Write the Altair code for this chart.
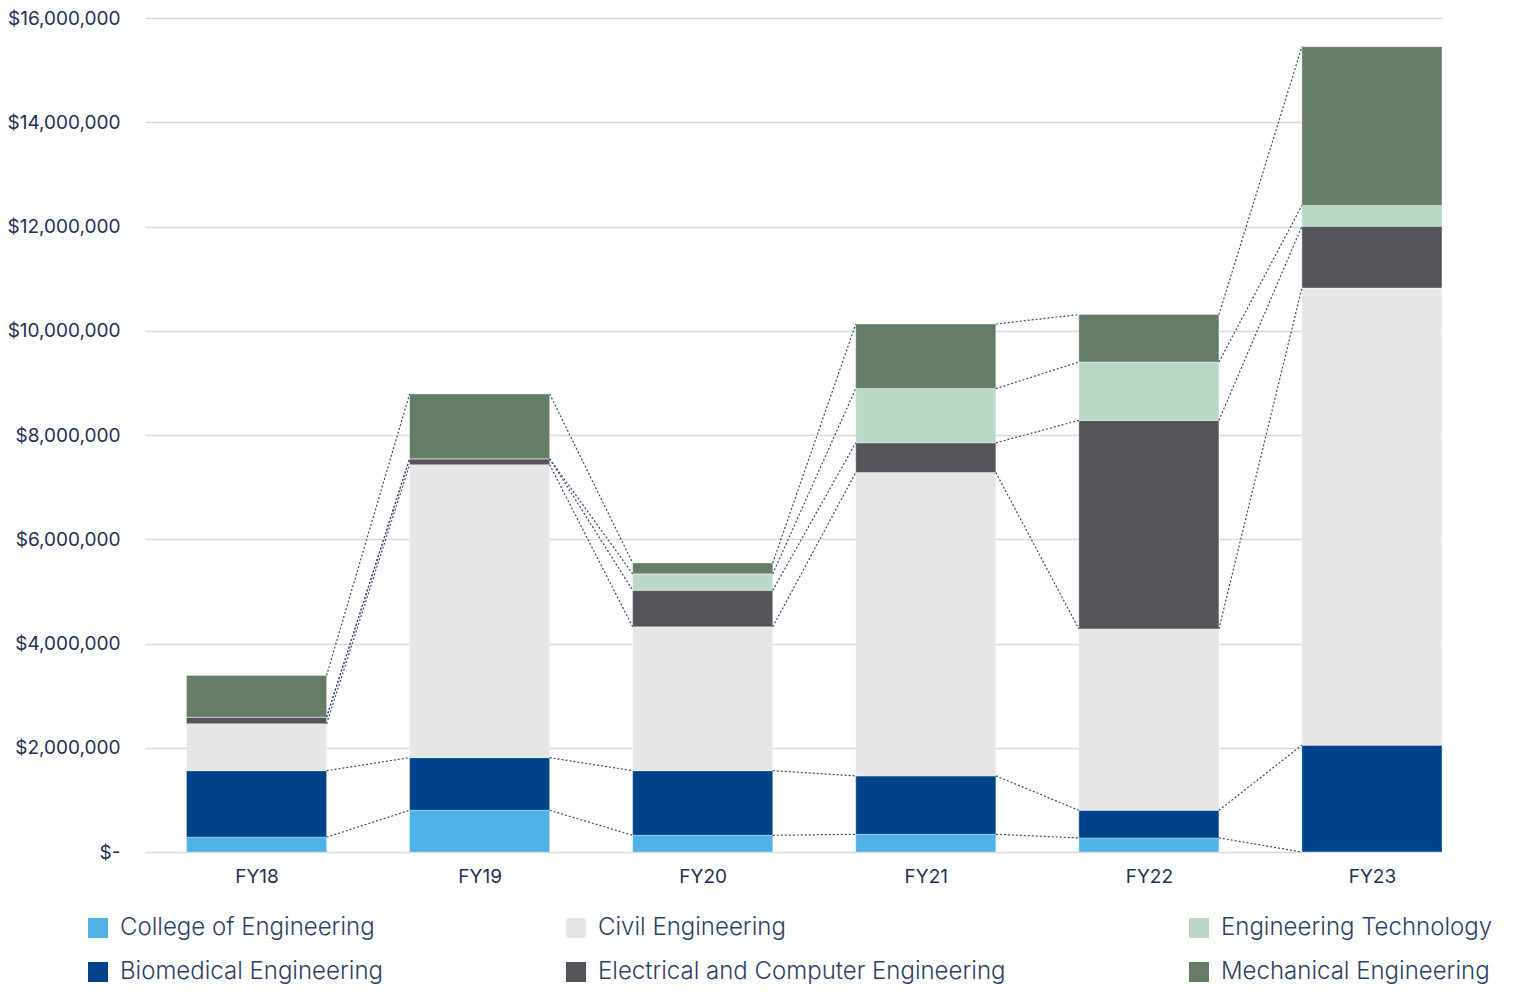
import json
import altair as alt
import pandas as pd

years = ["FY18", "FY19", "FY20", "FY21", "FY22", "FY23"]
series = [
    "College of Engineering",
    "Biomedical Engineering",
    "Civil Engineering",
    "Electrical and Computer Engineering",
    "Engineering Technology",
    "Mechanical Engineering",
]
college = [285000, 800000, 320000, 340000, 270000, 0]
biomedical = [1275000, 1010000, 1240000, 1120000, 530000, 2050000]
civil = [900000, 5620000, 2760000, 5820000, 3480000, 8770000]
electrical = [128000, 114000, 700000, 570000, 4000000, 1185000]
eng_tech = [0, 0, 316000, 1040000, 1120000, 400000]
mechanical = [800000, 1243000, 209000, 1240000, 910000, 3045000]
colors = ["#4EB2E6", "#00438A", "#E6E6E7", "#55545A", "#B9D9C6", "#657D66"]

values = [college, biomedical, civil, electrical, eng_tech, mechanical]

HALF = 0.314
rows = []
for i, yr in enumerate(years):
    cum = 0
    for k, s in enumerate(series):
        v = values[k][i]
        rows.append(dict(idx=i, year=yr, series=s, order=k, value=v,
                         y0=cum, y1=cum + v, xl=i - HALF, xr=i + HALF))
        cum += v
bars = pd.DataFrame(rows)

conn = []
for k, s in enumerate(series):
    for i in range(len(years) - 1):
        a = bars[(bars.idx == i) & (bars.series == s)].iloc[0]
        b = bars[(bars.idx == i + 1) & (bars.series == s)].iloc[0]
        conn.append(dict(x=i + HALF, x2=i + 1 - HALF, y=a.y1, y2=b.y1))
conn = pd.DataFrame(conn)

FONT = "Inter"
TEXT = "#1F2F55"
label_expr = json.dumps(years) + "[datum.value]"
xscale = alt.Scale(domain=[-0.5, len(years) - 1 + HALF], nice=False, zero=False)
yscale = alt.Scale(domain=[0, 16000000], nice=False)

bar_layer = alt.Chart(bars).mark_bar(stroke="white", strokeWidth=0.6, strokeOpacity=0.6).encode(
    x=alt.X("xl:Q", scale=xscale, title=None,
            axis=alt.Axis(values=list(range(len(years))), labelExpr=label_expr,
                          grid=False, ticks=False, domain=False, labelPadding=15,
                          labelFontSize=19, labelColor=TEXT, labelFont=FONT)),
    x2="xr:Q",
    y=alt.Y("y0:Q", scale=yscale, title=None,
            axis=alt.Axis(values=list(range(0, 16000001, 2000000)),
                          labelExpr="datum.value == 0 ? '$-\u00a0\u00a0' : '$' + format(datum.value, ',')",
                          grid=True, gridColor="#D9D9D9", gridWidth=1.5, ticks=False, domain=False,
                          labelPadding=25, labelFontSize=19, labelColor=TEXT, labelFont=FONT)),
    y2="y1:Q",
    color=alt.Color("series:N", scale=alt.Scale(domain=series, range=colors),
                    legend=alt.Legend(orient="none", legendX=-59, legendY=898, columns=3,
                                      columnPadding=181, rowPadding=20, symbolType="square",
                                      symbolSize=400, symbolStrokeWidth=0, symbolOpacity=1,
                                      labelFontSize=24, labelFont=FONT, labelFontWeight=300,
                                      labelColor="#2D3F66",
                                      labelOffset=10, labelLimit=800, title=None)),
)

rule_layer = alt.Chart(conn).mark_rule(color="#3A4A70", strokeWidth=1.2, strokeDash=[2, 2]).encode(
    x=alt.X("x:Q", scale=xscale),
    x2="x2:Q",
    y=alt.Y("y:Q", scale=yscale),
    y2="y2:Q",
)

chart = alt.layer(bar_layer, rule_layer).properties(
    width=1297, height=834,
    autosize=alt.AutoSizeParams(type="none"),
    padding={"left": 137, "top": 10, "right": 62, "bottom": 134},
).configure_view(stroke=None)

chart.save("out.html", embed_options={"renderer": "svg", "actions": False})
